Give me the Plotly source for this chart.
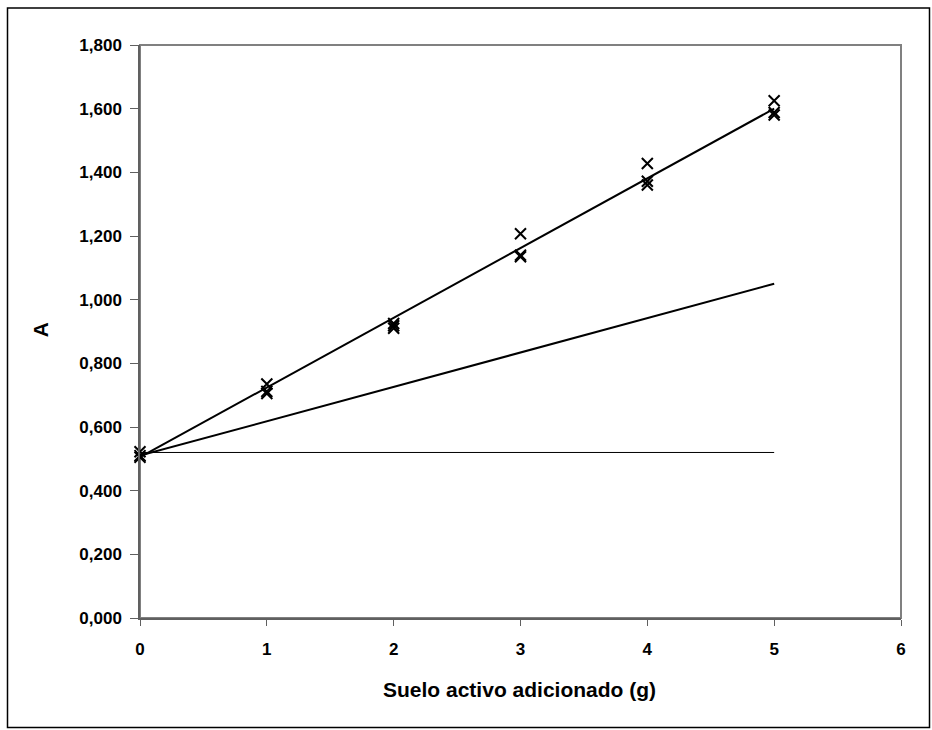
import plotly.graph_objects as go

# Data
x_obs = [0, 0, 0, 1, 1, 1, 2, 2, 2, 3, 3, 3, 4, 4, 4, 5, 5, 5]
a_obs = [0.51, 0.522, 0.505, 0.735, 0.712, 0.705, 0.925, 0.918, 0.91,
         1.207, 1.14, 1.135, 1.428, 1.372, 1.36, 1.625, 1.588, 1.58]

fit_x = [0, 5]
fit_y = [0.505, 1.60]
line2_x = [0, 5]
line2_y = [0.51, 1.05]
base_x = [0, 5]
base_y = [0.52, 0.52]

y_tickvals = [0, 0.2, 0.4, 0.6, 0.8, 1.0, 1.2, 1.4, 1.6, 1.8]
y_ticktext = ["0,000", "0,200", "0,400", "0,600", "0,800", "1,000",
              "1,200", "1,400", "1,600", "1,800"]
x_tickvals = [0, 1, 2, 3, 4, 5, 6]
x_ticktext = ["0", "1", "2", "3", "4", "5", "6"]

FONT = "Liberation Sans, Arial, sans-serif"

fig = go.Figure()
fig.add_trace(go.Scatter(x=base_x, y=base_y, mode="lines",
                         line=dict(color="black", width=1), showlegend=False))
fig.add_trace(go.Scatter(x=line2_x, y=line2_y, mode="lines",
                         line=dict(color="black", width=2), showlegend=False))
fig.add_trace(go.Scatter(x=fit_x, y=fit_y, mode="lines",
                         line=dict(color="black", width=2), showlegend=False))
fig.add_trace(go.Scatter(x=x_obs, y=a_obs, mode="markers",
                         marker=dict(symbol="x-thin-open", size=11, color="black",
                                     line=dict(color="black", width=2)),
                         showlegend=False, cliponaxis=False))

L, R, T, B = 140, 31, 44.5, 112
W, H = 932, 730
pw, ph = W - L - R, H - T - B

def px_x(p):
    return (p - L) / pw

def px_y(p):
    return (H - B - p) / ph

TF = dict(family=FONT, size=17, color="black", weight="bold")

fig.update_layout(
    width=W, height=H,
    margin=dict(l=L, r=R, t=T, b=B),
    paper_bgcolor="white", plot_bgcolor="white",
    font=dict(family=FONT, size=17, color="black"),
    xaxis=dict(range=[0, 6], tickvals=x_tickvals, ticktext=x_ticktext,
               showgrid=False, zeroline=False, showline=True,
               linecolor="#606060", linewidth=1.5, mirror=False,
               ticks="outside", ticklen=6, tickcolor="#606060",
               ticklabelstandoff=9, tickfont=TF),
    yaxis=dict(range=[0, 1.8], tickvals=y_tickvals, ticktext=y_ticktext,
               showgrid=False, zeroline=False, showline=True,
               linecolor="#606060", linewidth=1.5, mirror=False,
               ticks="outside", ticklen=8, tickcolor="#606060",
               ticklabelstandoff=5, tickfont=TF),
    shapes=[
        dict(type="rect", xref="paper", yref="paper", x0=0, x1=1, y0=0, y1=1,
             line=dict(color="#808080", width=2), layer="below"),
        dict(type="rect", xref="paper", yref="paper",
             x0=px_x(7.5), x1=px_x(929.5), y0=px_y(727.5), y1=px_y(7.5),
             line=dict(color="black", width=1.5)),
    ],
    annotations=[
        dict(text="<b>Suelo activo adicionado (g)</b>", xref="paper", yref="paper",
             x=px_x(519), y=px_y(690), showarrow=False, xanchor="center", yanchor="middle",
             font=dict(family=FONT, size=21, color="black")),
        dict(text="<b>A</b>", xref="paper", yref="paper",
             x=px_x(40), y=px_y(330), showarrow=False, textangle=-90,
             xanchor="center", yanchor="middle",
             font=dict(family=FONT, size=21, color="black")),
    ],
)

fig.write_html("out.html")
